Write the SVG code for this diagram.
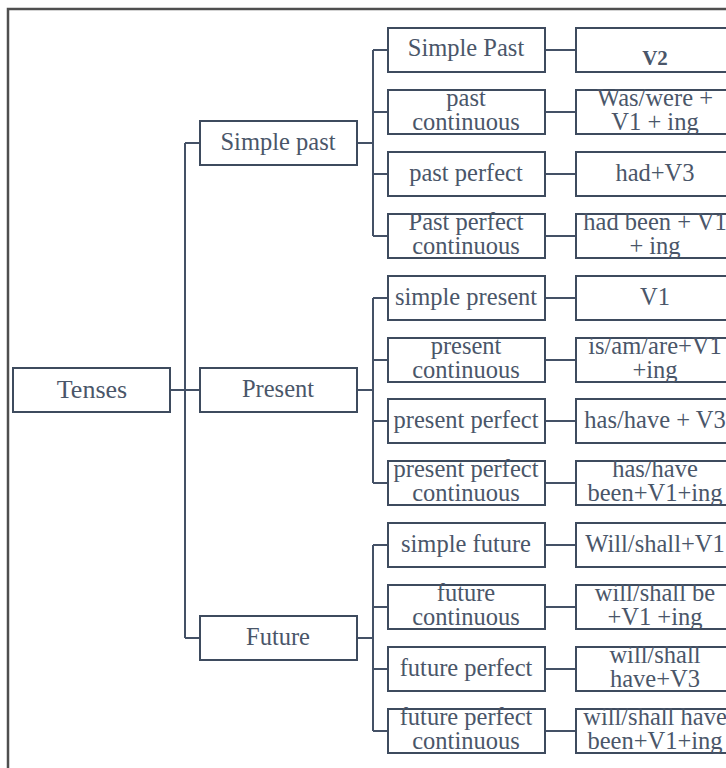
<svg xmlns="http://www.w3.org/2000/svg" width="726" height="768" viewBox="0 0 726 768">
<style>
.b{fill:#fff;stroke:#3e4b5e;stroke-width:2}
.t{font-family:"Liberation Serif","Times New Roman","DejaVu Serif",serif;font-size:24.5px;fill:#4a5669;text-anchor:middle}
.c{fill:none;stroke:#445166;stroke-width:2}
.f{fill:none;stroke:#4f4f4f;stroke-width:2.5}
</style>
<rect width="726" height="768" fill="#fff"/>
<path class="f" d="M8 768V9H726"/>
<g id="connectors">
<path class="c" d="M170 390H185M185 143V638M185 143H200M185 390H200M185 638H200"/>
<path class="c" d="M357 143H373M373 50V236M373 50H388M373 112H388M373 174H388M373 236H388"/>
<path class="c" d="M357 390H373M373 298V483M373 298H388M373 360H388M373 421H388M373 483H388"/>
<path class="c" d="M357 638H373M373 545V731M373 545H388M373 607H388M373 669H388M373 731H388"/>
<path class="c" d="M545 50H576M545 112H576M545 174H576M545 236H576M545 298H576M545 360H576M545 421H576M545 483H576M545 545H576M545 607H576M545 669H576M545 731H576"/>
</g>
<g id="tenses"><rect class="b" x="13" y="368" width="157" height="44"/><text class="t" x="92" y="398" style="font-size:26px">Tenses</text></g>
<g id="simple-past"><rect class="b" x="200" y="121" width="157" height="44"/><text class="t" x="278" y="150">Simple past</text></g>
<g id="present"><rect class="b" x="200" y="368" width="157" height="44"/><text class="t" x="278" y="397">Present</text></g>
<g id="future"><rect class="b" x="200" y="616" width="157" height="44"/><text class="t" x="278" y="645">Future</text></g>

<g id="n-simple-past"><rect class="b" x="388" y="28" width="157" height="44"/><text class="t" x="466" y="56">Simple Past</text></g>
<g id="n-past-cont"><rect class="b" x="388" y="90" width="157" height="44"/><text class="t" x="466" y="106">past</text><text class="t" x="466" y="130">continuous</text></g>
<g id="n-past-perf"><rect class="b" x="388" y="152" width="157" height="44"/><text class="t" x="466" y="181">past perfect</text></g>
<g id="n-past-perf-cont"><rect class="b" x="388" y="214" width="157" height="44"/><text class="t" x="466" y="230">Past perfect</text><text class="t" x="466" y="254">continuous</text></g>
<g id="n-simple-present"><rect class="b" x="388" y="276" width="157" height="44"/><text class="t" x="466" y="305">simple present</text></g>
<g id="n-present-cont"><rect class="b" x="388" y="338" width="157" height="44"/><text class="t" x="466" y="354">present</text><text class="t" x="466" y="378">continuous</text></g>
<g id="n-present-perf"><rect class="b" x="388" y="399" width="157" height="44"/><text class="t" x="466" y="428">present perfect</text></g>
<g id="n-present-perf-cont"><rect class="b" x="388" y="461" width="157" height="44"/><text class="t" x="466" y="477">present perfect</text><text class="t" x="466" y="501">continuous</text></g>
<g id="n-simple-future"><rect class="b" x="388" y="523" width="157" height="44"/><text class="t" x="466" y="552">simple future</text></g>
<g id="n-future-cont"><rect class="b" x="388" y="585" width="157" height="44"/><text class="t" x="466" y="601">future</text><text class="t" x="466" y="625">continuous</text></g>
<g id="n-future-perf"><rect class="b" x="388" y="647" width="157" height="44"/><text class="t" x="466" y="676">future perfect</text></g>
<g id="n-future-perf-cont"><rect class="b" x="388" y="709" width="157" height="44"/><text class="t" x="466" y="725">future perfect</text><text class="t" x="466" y="749">continuous</text></g>

<g id="r-v2"><rect class="b" x="576" y="28" width="160" height="44"/><text class="t" x="655" y="65" style="font-weight:bold;font-size:21px">V2</text></g>
<g id="r-was"><rect class="b" x="576" y="90" width="160" height="44"/><text class="t" x="655" y="106">Was/were +</text><text class="t" x="655" y="130">V1 + ing</text></g>
<g id="r-had"><rect class="b" x="576" y="152" width="160" height="44"/><text class="t" x="655" y="181">had+V3</text></g>
<g id="r-hadbeen"><rect class="b" x="576" y="214" width="160" height="44"/><text class="t" x="655" y="230">had been + V1</text><text class="t" x="655" y="254">+ ing</text></g>
<g id="r-v1"><rect class="b" x="576" y="276" width="160" height="44"/><text class="t" x="655" y="305">V1</text></g>
<g id="r-isam"><rect class="b" x="576" y="338" width="160" height="44"/><text class="t" x="655" y="354">is/am/are+V1</text><text class="t" x="655" y="378">+ing</text></g>
<g id="r-hashave"><rect class="b" x="576" y="399" width="160" height="44"/><text class="t" x="655" y="428">has/have + V3</text></g>
<g id="r-hashavebeen"><rect class="b" x="576" y="461" width="160" height="44"/><text class="t" x="655" y="477">has/have</text><text class="t" x="655" y="501">been+V1+ing</text></g>
<g id="r-will"><rect class="b" x="576" y="523" width="160" height="44"/><text class="t" x="655" y="552">Will/shall+V1</text></g>
<g id="r-willbe"><rect class="b" x="576" y="585" width="160" height="44"/><text class="t" x="655" y="601">will/shall be</text><text class="t" x="655" y="625">+V1 +ing</text></g>
<g id="r-willhave"><rect class="b" x="576" y="647" width="160" height="44"/><text class="t" x="655" y="663">will/shall</text><text class="t" x="655" y="687">have+V3</text></g>
<g id="r-willhavebeen"><rect class="b" x="576" y="709" width="160" height="44"/><text class="t" x="655" y="725">will/shall have</text><text class="t" x="655" y="749">been+V1+ing</text></g>
</svg>
